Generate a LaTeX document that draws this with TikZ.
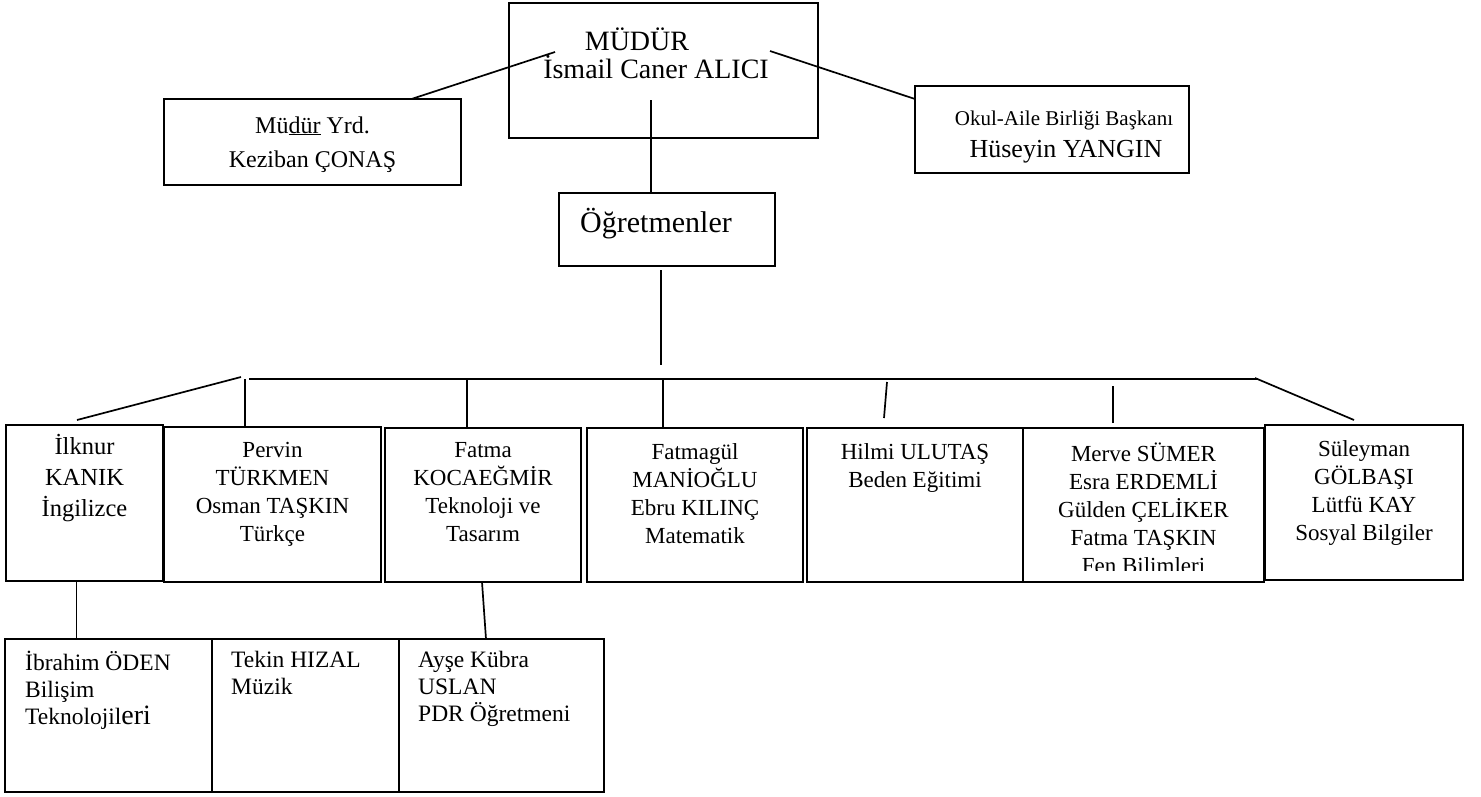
\documentclass[tikz,border=0pt]{standalone}
\usepackage{fontspec}
\setmainfont{Liberation Serif}
\begin{document}
\begin{tikzpicture}[x=1pt,y=-1pt,
  box/.style={draw, line width=1.8pt, inner sep=0pt, outer sep=0pt},
  conn/.style={line width=1.7pt},
  one/.style={anchor=base, inner sep=0pt},
  rowtxt/.style={anchor=north, inner sep=0pt, align=center,
    font=\fontsize{23}{28}\selectfont, execute at begin node=\strut},
  lefttxt/.style={anchor=north west, inner sep=0pt, align=left,
    font=\fontsize{23.5}{27}\selectfont, execute at begin node=\strut}]
\useasboundingbox (0,0) rectangle (1481,796);

% ---- boxes ----
\node[box, minimum width=309pt, minimum height=135pt] (mudur) at (663.5,70.5) {};
\node[box, minimum width=297pt, minimum height=86pt] (yrd) at (312.5,142) {};
\node[box, minimum width=274pt, minimum height=87pt] (okul) at (1052,129.5) {};
\node[box, minimum width=216pt, minimum height=73pt] (ogr) at (667,229.5) {};

\node[box, minimum width=157pt, minimum height=156pt] (ilknur) at (84.5,503) {};
\node[box, minimum width=217pt, minimum height=155pt] (pervin) at (272.5,504.5) {};
\node[box, minimum width=196pt, minimum height=154pt] (fatma) at (483,505) {};
\node[box, minimum width=216pt, minimum height=154pt] (fatmagul) at (695,505) {};
\node[box, minimum width=216pt, minimum height=154pt] (hilmi) at (915,505) {};
\node[box, minimum width=241pt, minimum height=154pt] (merve) at (1143.5,505) {};
\node[box, minimum width=198pt, minimum height=155pt] (sul) at (1364,502.5) {};

\node[box, minimum width=207pt, minimum height=153pt] (ibr) at (108.5,715.5) {};
\node[box, minimum width=187pt, minimum height=153pt] (tekin) at (305.5,715.5) {};
\node[box, minimum width=205pt, minimum height=153pt] (ayse) at (501.5,715.5) {};

% ---- texts ----
\node[one, font=\fontsize{28}{32}\selectfont] (mudurt1) at (637,50) {MÜDÜR};
\node[one, font=\fontsize{28}{32}\selectfont] (mudurt2) at (656,78) {İsmail Caner ALICI};
\node[one, font=\fontsize{24}{30}\selectfont] (yrdt1) at (312.5,133) {Mü\underline{dür} Yrd.};
\node[one, font=\fontsize{24}{30}\selectfont] (yrdt2) at (312.5,167) {Keziban ÇONAŞ};
\node[one, font=\fontsize{21}{26}\selectfont] (okult1) at (1064,125) {Okul-Aile Birliği Başkanı};
\node[one, font=\fontsize{26}{30}\selectfont] (okult2) at (1066,157) {Hüseyin YANGIN};
\node[one, anchor=base west, font=\fontsize{30}{34}\selectfont] (ogrt) at (580,232) {Öğretmenler};

\node[rowtxt, font=\fontsize{24.5}{31}\selectfont] (ilknurt) at (84.5,434.3) {İlknur\\KANIK\\İngilizce};
\node[rowtxt] (pervint) at (272.5,442.4) {Pervin\\TÜRKMEN\\Osman TAŞKIN\\Türkçe};
\node[rowtxt] (fatmat) at (483,442.4) {Fatma\\KOCAEĞMİR\\Teknoloji ve\\Tasarım};
\node[rowtxt] (fatmagult) at (695,443.4) {Fatmagül\\MANİOĞLU\\Ebru KILINÇ\\Matematik};
\node[rowtxt] (hilmit) at (915,443.4) {Hilmi ULUTAŞ\\Beden Eğitimi};
\begin{scope}
  \clip (1023,428) rectangle (1264,570);
  \node[rowtxt] (mervet) at (1143.5,442.4) {Merve SÜMER\\Esra ERDEMLİ\\Gülden ÇELİKER\\Fatma TAŞKIN\\Fen Bilimleri};
\end{scope}
\node[rowtxt] (sult) at (1364,440.4) {Süleyman\\GÖLBAŞI\\Lütfü KAY\\Sosyal Bilgiler};

\node[lefttxt] (ibrt) at (25,651.1) {İbrahim ÖDEN\\Bilişim\\Teknolojil{\fontsize{28}{27}\selectfont eri}};
\node[lefttxt] (tekint) at (231,651.1) {Tekin HIZAL\\Müzik};
\node[lefttxt] (ayset) at (418,651.1) {Ayşe Kübra\\USLAN\\PDR Öğretmeni};

% ---- connector end points ----
\coordinate (m1) at (555,52);
\coordinate (m2) at (770,51);
\coordinate (m3) at (651,100);
\coordinate (b0) at (661,365);
\coordinate (bL) at (249,379);
\coordinate (bR) at (1257,379);
\coordinate (d1) at (241,377);
\coordinate (d2) at (1255,378);

% ---- connectors ----
\draw[conn] ([xshift=99pt]yrd.north) -- (m1);
\draw[conn] (m2) -- ([yshift=-13pt]okul.north west);
\draw[conn] (m3) -- ([xshift=-16pt]ogr.north);
\draw[conn] ([xshift=-6pt,yshift=-4pt]ogr.south) -- (b0);
\draw[conn] (bL) -- (bR);
\draw[conn] ([xshift=-7.5pt,yshift=5pt]ilknur.north) -- (d1);
\draw[conn] ([xshift=-27.5pt]pervin.north) -- ++(0,-48);
\draw[conn] ([xshift=-16pt]fatma.north) -- ++(0,-49);
\draw[conn] ([xshift=-32pt]fatmagul.north) -- ++(0,-49);
\draw[conn] ([xshift=-31pt,yshift=10pt]hilmi.north) -- ++(3,-36);
\draw[conn] ([xshift=-30.5pt,yshift=5pt]merve.north) -- ++(0,-37);
\draw[conn] ([xshift=-10pt,yshift=5pt]sul.north) -- (d2);
\draw[conn] ([xshift=-8pt]ilknur.south) -- ([xshift=-32pt]ibr.north);
\draw[conn] ([xshift=-1pt]fatma.south) -- ([xshift=-15.5pt]ayse.north);
\end{tikzpicture}
\end{document}
